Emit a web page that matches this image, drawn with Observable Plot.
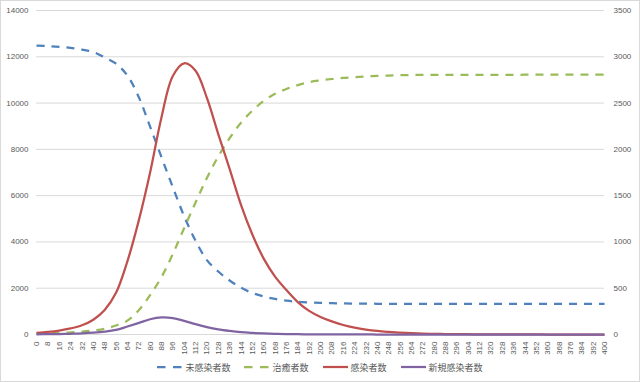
<!DOCTYPE html>
<html>
<head>
<meta charset="utf-8">
<script src="https://cdn.jsdelivr.net/npm/d3@7"></script>
<script src="https://cdn.jsdelivr.net/npm/@observablehq/plot@0.6"></script>
<style>
  html, body { margin: 0; padding: 0; background: #fff; }
  #wrap { position: relative; width: 640px; height: 382px; overflow: hidden; }
  #border { position: absolute; left: 0; top: 0; width: 640px; height: 382px; box-sizing: border-box; border: 1px solid #d9d9d9; pointer-events: none; }
  #chart { position: absolute; left: 0; top: 0; }
  #legend { position: absolute; left: 0; top: 359px; width: 640px; height: 16px; display: flex; justify-content: center; align-items: center; gap: 14px;
    font-family: "Noto Sans CJK JP", sans-serif; font-size: 9px; color: #595959; }
  .item { display: flex; align-items: center; gap: 3px; }
  .item svg { display: block; }
</style>
</head>
<body>
<div id="wrap">
  <div id="chart"></div>
  <div id="legend"></div>
  <div id="border"></div>
</div>
<script>
// Category axis (days), labelled every 8 days
const days = [0,8,16,24,32,40,48,56,64,72,80,88,96,104,112,120,128,136,144,152,160,168,176,184,192,200,
  208,216,224,232,240,248,256,264,272,280,288,296,304,312,320,328,336,344,352,360,368,376,384,392,400];

// 未感染者数 (left axis)
const susceptible = [12480,12465,12425,12385,12310,12210,11970,11700,11190,10260,8980,7665,6366,5108,4054,3215,
  2722,2332,2020,1795,1645,1535,1460,1412,1388,1370,1355,1342,1336,1331,1328,1326,1325,1324,1323,1322,1322,1321,
  1321,1320,1320,1320,1320,1320,1320,1320,1320,1320,1320,1320,1320];

// 治癒者数 (left axis)
const recovered = [40,50,65,90,125,175,250,390,600,1050,1700,2480,3480,4600,5700,6760,7690,8480,9150,9670,10090,
  10400,10610,10775,10905,10980,11040,11085,11115,11150,11170,11190,11205,11212,11218,11220,11221,11222,11222,
  11223,11223,11223,11223,11224,11224,11224,11224,11224,11224,11224,11224];

// 感染者数 (right axis)
const infected = [18,28,43,66,100,160,265,450,790,1230,1750,2345,2793,2930,2850,2555,2165,1790,1400,1080,820,625,
  480,350,255,190,142,103,74,53,38,28,20,14,10,7,5,4,3,2,1.5,1,1,0.5,0.5,0,0,0,0,0,0];

// 新規感染者数 (right axis)
const newInfected = [2,3.3,5,8,12,19,30,49,86,125,165,185,178,148,112,80,55,38,25,17,11,7,5,3,2,1.5,1,0.7,0.5,0.3,
  0,0,0,0,0,0,0,0,0,0,0,0,0,0,0,0,0,0,0,0,0];

const leftTicks = [0,2000,4000,6000,8000,10000,12000,14000];
const rightTicks = [0,500,1000,1500,2000,2500,3000,3500];

const seriesNames = ["未感染者数","治癒者数","感染者数","新規感染者数"];
const seriesColors = ["#4F81BD","#9BBB59","#C0504D","#8064A2"];
const seriesDashed = [true, true, false, false];

const table = days.map((d, i) => ({day: d, S: susceptible[i], R: recovered[i], I: infected[i], N: newInfected[i]}));

// secondary axis mapping (0–3500 onto 0–14000)
const y2 = d3.scaleLinear([0, 3500], [0, 14000]);

const common = {x: "day", strokeWidth: 2.25, strokeLinecap: "butt", curve: "catmull-rom"};

const chart = Plot.plot({
  width: 640,
  height: 358,
  marginLeft: 36,
  marginRight: 36,
  marginTop: 10,
  marginBottom: 24,
  style: {fontFamily: "'Liberation Sans', Arial, sans-serif", fontSize: "8px", color: "#595959", background: "transparent"},
  x: {domain: [0, 400]},
  y: {domain: [0, 14000]},
  marks: [
    Plot.ruleY(leftTicks, {stroke: "#d9d9d9", strokeWidth: 1}),
    Plot.axisY(leftTicks, {anchor: "left", tickSize: 0, tickPadding: 8, label: null, tickFormat: d => String(d)}),
    Plot.axisY(rightTicks, {anchor: "right", y: y2, tickSize: 0, tickPadding: 9, label: null, tickFormat: d => String(d)}),
    Plot.axisX(days, {anchor: "bottom", tickSize: 0, tickPadding: 7, tickRotate: -90, label: null, tickFormat: d => String(d)}),
    Plot.line(table, {...common, y: "S", stroke: seriesColors[0], strokeDasharray: "8,7"}),
    Plot.line(table, {...common, y: "R", stroke: seriesColors[1], strokeDasharray: "8,7"}),
    Plot.line(table, {...common, y: d => y2(d.I), stroke: seriesColors[2]}),
    Plot.line(table, {...common, y: d => y2(d.N), stroke: seriesColors[3]})
  ]
});
document.getElementById("chart").appendChild(chart);

const legend = document.getElementById("legend");
seriesNames.forEach((name, i) => {
  const item = document.createElement("div");
  item.className = "item";
  const dash = seriesDashed[i] ? 'stroke-dasharray="8.5,7.5"' : "";
  item.innerHTML = `<svg width="25" height="8"><line x1="0" y1="4" x2="25" y2="4" stroke="${seriesColors[i]}" stroke-width="2.25" ${dash}/></svg><span>${name}</span>`;
  legend.appendChild(item);
});
</script>
</body>
</html>
